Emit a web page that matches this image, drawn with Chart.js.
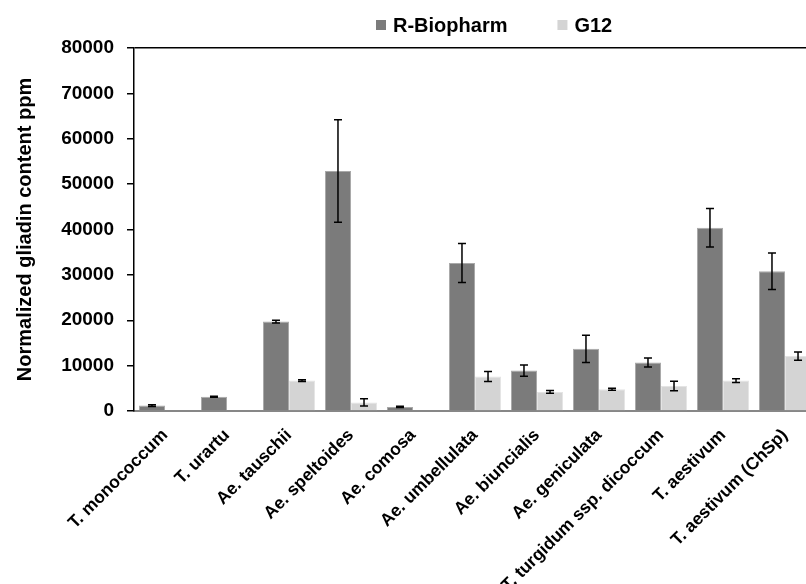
<!DOCTYPE html>
<html>
<head>
<meta charset="utf-8">
<script src="https://cdn.jsdelivr.net/npm/chart.js@4/dist/chart.umd.min.js"></script>
<style>
  html, body { margin: 0; padding: 0; background: #fff; overflow: hidden; }
  #wrap { position: absolute; left: 0; top: 0; width: 820px; height: 640px; }
</style>
</head>
<body>
<div id="wrap"><canvas id="myChart" width="820" height="640"></canvas></div>
<script>
const categories = ['T. monococcum', 'T. urartu', 'Ae. tauschii', 'Ae. speltoides', 'Ae. comosa',
    'Ae. umbellulata', 'Ae. biuncialis', 'Ae. geniculata', 'T. turgidum ssp. dicoccum',
    'T. aestivum', 'T. aestivum (ChSp)'];
const rBiopharm = [1200, 3150, 19700, 52900, 900, 32600, 8900, 13700, 10700, 40400, 30800];
const rBiopharmErr = [200, 100, 300, 11300, 150, 4300, 1250, 3000, 1000, 4250, 4000];
const g12 = [0, 0, 6700, 1900, 0, 7600, 4200, 4800, 5500, 6700, 12100];
const g12Err = [0, 0, 200, 800, 0, 1100, 300, 200, 1050, 400, 900];
const yTicks = [0, 10000, 20000, 30000, 40000, 50000, 60000, 70000, 80000];

const FONT = "'Liberation Sans', Arial, sans-serif";

// error bars drawn off the y scale
const errorBars = {
    id: 'errorBars',
    afterDatasetsDraw(chart) {
        const ctx = chart.ctx;
        const y = chart.scales.y;
        ctx.save();
        ctx.strokeStyle = '#000';
        ctx.lineWidth = 1.5;
        chart.data.datasets.forEach((ds, i) => {
            const meta = chart.getDatasetMeta(i);
            meta.data.forEach((bar, j) => {
                const err = ds.errors[j];
                if (!err) return;
                const top = y.getPixelForValue(ds.data[j] + err);
                const bot = y.getPixelForValue(Math.max(0, ds.data[j] - err));
                ctx.beginPath();
                ctx.moveTo(bar.x, top); ctx.lineTo(bar.x, bot);
                ctx.moveTo(bar.x - 4, top); ctx.lineTo(bar.x + 4, top);
                ctx.moveTo(bar.x - 4, bot); ctx.lineTo(bar.x + 4, bot);
                ctx.stroke();
            });
        });
        ctx.restore();
    }
};

// legend placed like the original (offset to the right of centre)
const topLegend = {
    id: 'topLegend',
    afterDraw(chart) {
        const ctx = chart.ctx;
        ctx.save();
        ctx.font = 'bold 20px ' + FONT;
        ctx.textBaseline = 'middle';
        let x = 376;
        chart.data.datasets.forEach((ds) => {
            ctx.fillStyle = ds.backgroundColor;
            ctx.fillRect(x, 20, 10, 10);
            ctx.fillStyle = '#000';
            ctx.fillText(ds.label, x + 17, 26);
            x += 17 + ctx.measureText(ds.label).width + 50;
        });
        ctx.restore();
    }
};

new Chart(document.getElementById('myChart').getContext('2d'), {
    type: 'bar',
    data: {
        labels: categories,
        datasets: [{
            label: 'R-Biopharm',
            data: rBiopharm,
            errors: rBiopharmErr,
            backgroundColor: '#7b7b7b',
            borderColor: '#a9a9a9',
            borderWidth: 1
        }, {
            label: 'G12',
            data: g12,
            errors: g12Err,
            backgroundColor: '#d4d4d4',
            borderColor: '#e4e4e4',
            borderWidth: 1
        }]
    },
    options: {
        responsive: false,
        animation: false,
        layout: { padding: { top: 48, right: 4, left: 0, bottom: 0 } },
        datasets: { bar: { categoryPercentage: 0.84, barPercentage: 1.0 } },
        plugins: { legend: { display: false }, tooltip: { enabled: false } },
        scales: {
            x: {
                afterFit: (s) => { s.height = 640 - 411; },
                grid: { display: true, color: 'transparent', drawTicks: false },
                border: { color: '#878787', width: 2 },
                ticks: {
                    autoSkip: false, maxRotation: 45, minRotation: 45, padding: 14,
                    color: '#000', font: { family: FONT, size: 17.5, weight: 'bold' }
                }
            },
            y: {
                min: 0, max: 80000,
                afterFit: (s) => { s.width = 134; },
                afterBuildTicks: (s) => { s.ticks = yTicks.map(v => ({ value: v })); },
                grid: {
                    color: (c) => c.tick && c.tick.value === 80000 ? '#000' : 'transparent',
                    tickColor: '#000', tickLength: 7, lineWidth: 1.5
                },
                border: { color: '#000', width: 1.5 },
                ticks: {
                    padding: 13, color: '#000',
                    callback: (v) => String(v),
                    font: { family: FONT, size: 19, weight: 'bold' }
                },
                title: {
                    display: true, text: 'Normalized gliadin content ppm', color: '#000',
                    padding: { top: 13, bottom: 0 },
                    font: { family: FONT, size: 20, weight: 'bold' }
                }
            }
        }
    },
    plugins: [errorBars, topLegend]
});
</script>
</body>
</html>
